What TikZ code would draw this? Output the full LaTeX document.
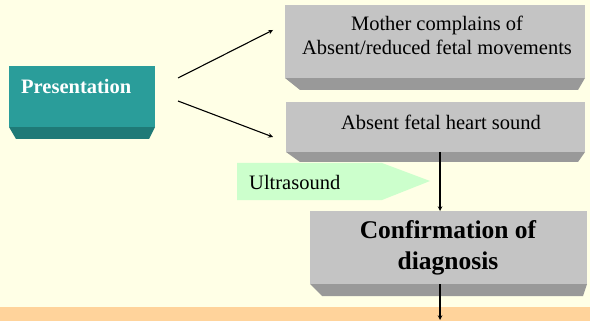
\documentclass[tikz,border=0pt]{standalone}
\usepackage{fontspec}
\setmainfont{Liberation Serif}
\definecolor{bgyellow}{HTML}{FFFFE6}
\definecolor{bandorange}{HTML}{FFD39B}
\definecolor{tealface}{HTML}{2A9D9A}
\definecolor{tealbevel}{HTML}{1F7A77}
\definecolor{grayface}{HTML}{C4C4C4}
\definecolor{graybevel}{HTML}{999999}
\definecolor{palegreen}{HTML}{CCFFCC}
\begin{document}
\begin{tikzpicture}[x=1pt,y=-1pt,
  conn/.style={-stealth, line width=1.1pt, black},
  txt/.style={font=\fontsize{20.5}{24}\selectfont, align=center, inner sep=0pt},
]
\fill[bgyellow] (0,0) rectangle (590,321);
\useasboundingbox (0,0) rectangle (590,321);
\fill[bandorange] (0,307) rectangle (590,321);
% Presentation
\fill[tealbevel] (9,127) -- (155,127) -- (149,139) -- (16,139) -- cycle;
\fill[tealface] (9,66) rectangle (155,127);
\node[txt, anchor=west, text=white, font=\fontsize{20.5}{24}\selectfont\bfseries] (pres) at (21,86) {Presentation};
\coordinate (p1) at (178,78);
\coordinate (p2) at (178,101);
% Box 1
\fill[graybevel] (285,78) -- (585,78) -- (578,90) -- (300,90) -- cycle;
\fill[grayface] (285,5) rectangle (585,78);
\node[txt] (b1) at (437,35) {Mother complains of\\Absent/reduced fetal movements};
\coordinate (b1w) at (273,30);
% Box 2
\fill[graybevel] (286,152) -- (585,152) -- (578,162) -- (300,162) -- cycle;
\fill[grayface] (286,102) rectangle (585,152);
\node[txt] (b2) at (441,122) {Absent fetal heart sound};
\coordinate (b2w) at (273,137);
\coordinate (b2s) at (440,152);
% Ultrasound
\fill[palegreen] (237,163) -- (382,163) -- (430,181) -- (382,200) -- (237,200) -- cycle;
\node[txt, anchor=west] (us) at (249,182) {Ultrasound};
% Confirmation
\fill[graybevel] (310,284) -- (587,284) -- (583,296) -- (322,296) -- cycle;
\fill[grayface] (310,211) rectangle (587,284);
\node[txt, font=\fontsize{25.5}{31}\selectfont\bfseries] (conf) at (448,248) {Confirmation of\\diagnosis};
\coordinate (cn) at (440,211);
\coordinate (cs) at (440,284);
\coordinate (end) at (440,320);
\draw[conn] (p1) -- (b1w);
\draw[conn] (p2) -- (b2w);
\draw[conn] (b2s) -- (cn);
\draw[conn] (cs) -- (end);
\end{tikzpicture}
\end{document}
